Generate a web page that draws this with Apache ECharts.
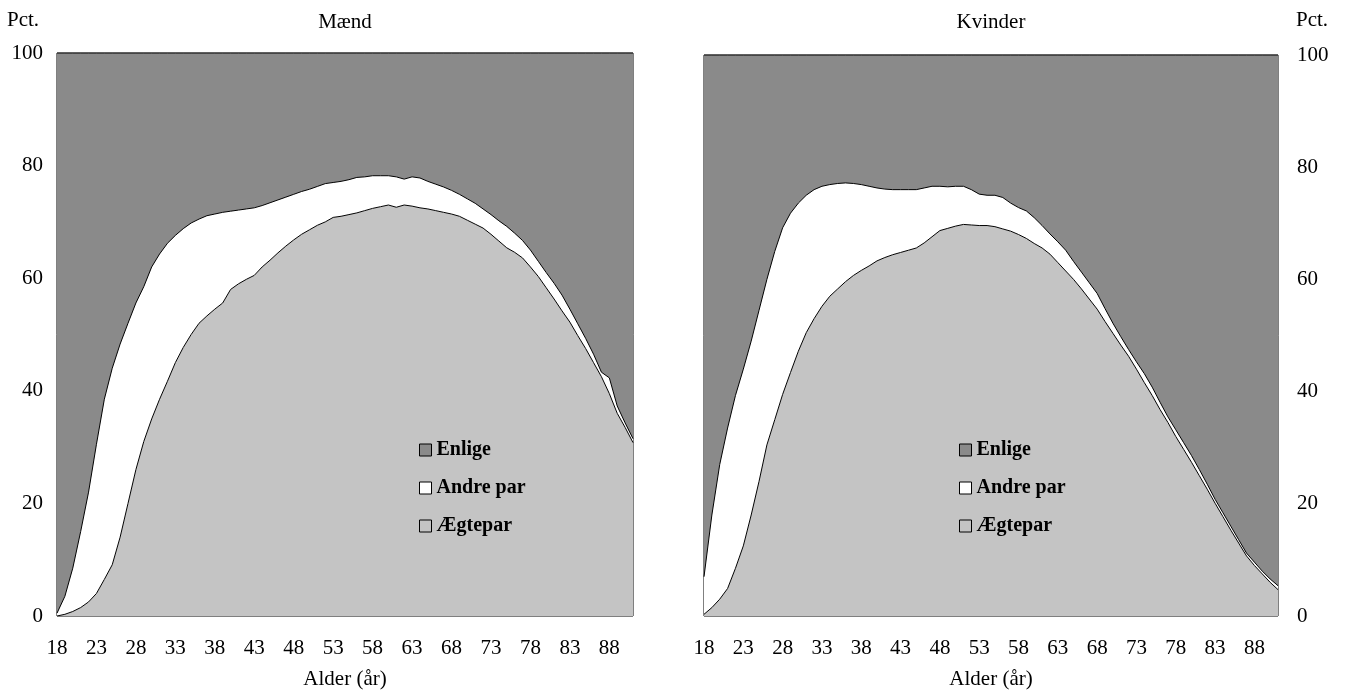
<!DOCTYPE html>
<html>
<head>
<meta charset="utf-8">
<script src="https://cdn.jsdelivr.net/npm/echarts@6/dist/echarts.min.js"></script>
<style>
html,body{margin:0;padding:0;background:#fff;}
#c{width:1349px;height:695px;}
</style>
</head>
<body>
<div id="c"></div>
<script>
// Categories: age in years
const ages = [18,19,20,21,22,23,24,25,26,27,28,29,30,31,32,33,34,35,36,37,38,39,40,41,42,43,44,45,46,47,48,49,50,51,52,53,54,55,56,57,58,59,60,61,62,63,64,65,66,67,68,69,70,71,72,73,74,75,76,77,78,79,80,81,82,83,84,85,86,87,88,89,90,91];

// Mænd (pct.)
const maendAegtepar = [0,0.3,0.8,1.5,2.5,4.0,6.5,9.1,14,20,26,31,35,38.5,41.7,45,47.7,50,52,53.3,54.5,55.6,58,59,59.8,60.5,62,63.2,64.5,65.7,66.8,67.8,68.6,69.4,70,70.8,71,71.3,71.6,72,72.4,72.7,73,72.6,73,72.8,72.5,72.3,72,71.7,71.4,71,70.3,69.6,68.9,67.8,66.6,65.4,64.6,63.6,62,60.3,58.3,56.3,54.2,52.2,49.8,47.5,45,42.5,39.5,36,33.5,30.8];
const maendAndrePar = [0.5,3.2,7.7,13.5,19.5,26.5,32,34.9,34.3,32,29.6,27.5,27,25.8,24.5,22.6,21.1,19.8,18.5,17.8,16.9,16.1,13.9,13.1,12.5,12,10.9,10.2,9.4,8.7,8.1,7.6,7.2,6.9,6.8,6.2,6.2,6.2,6.3,6,5.8,5.5,5.2,5.4,4.6,5.2,5.3,4.9,4.7,4.5,4.2,3.9,3.8,3.7,3.4,3.5,3.6,3.8,3.4,3.1,3,2.7,2.7,2.8,2.8,2.3,2.1,1.8,1.5,0.8,2.8,1.3,0.8,0.7];
const maendEnlige = [99.5,96.5,91.5,85,78,69.5,61.5,56,51.7,48,44.4,41.5,38,35.7,33.8,32.4,31.2,30.2,29.5,28.9,28.6,28.3,28.1,27.9,27.7,27.5,27.1,26.6,26.1,25.6,25.1,24.6,24.2,23.7,23.2,23,22.8,22.5,22.1,22,21.8,21.8,21.8,22,22.4,22,22.2,22.8,23.3,23.8,24.4,25.1,25.9,26.7,27.7,28.7,29.8,30.8,32,33.3,35,37,39,40.9,43,45.5,48.1,50.7,53.5,56.7,57.7,62.7,65.7,68.5];

// Kvinder (pct.)
const kvinderAegtepar = [0.3,1.5,3,4.9,8.5,12.5,18,24,30.5,35,39.5,43.4,47.2,50.5,53,55.2,57,58.3,59.6,60.7,61.6,62.4,63.3,63.9,64.4,64.8,65.2,65.6,66.5,67.6,68.7,69.1,69.5,69.8,69.7,69.6,69.6,69.4,69,68.6,68,67.3,66.4,65.6,64.5,63,61.5,60,58.3,56.5,54.7,52.5,50.4,48.3,46.3,44,41.6,39.3,36.8,34.5,32,29.7,27.4,25,22.6,20.1,17.7,15.3,13,10.7,9,7.5,6,4.7];
const kvinderAndrePar = [6.7,16.5,24,28.6,30.8,31.5,31,30.5,29.5,30,29.7,28.4,26.4,24.5,23,21.4,19.9,18.8,17.6,16.4,15.3,14.2,13,12.2,11.6,11.2,10.8,10.4,9.8,9,7.9,7.4,7.1,6.8,6.3,5.6,5.4,5.6,5.6,5,4.8,4.9,4.6,4,3.6,3.7,3.7,3.2,3,2.9,2.8,2.3,1.8,1.5,1.2,1.3,1.6,1.5,1.3,1,1.2,1.2,1.2,1.1,0.9,0.7,0.7,0.7,0.6,0.5,0.6,0.5,0.6,0.7];
const kvinderEnlige = [93,82,73,66.5,60.7,56,51,45.5,40,35,30.8,28.2,26.4,25,24,23.4,23.1,22.9,22.8,22.9,23.1,23.4,23.7,23.9,24,24,24,24,23.7,23.4,23.4,23.5,23.4,23.4,24,24.8,25,25,25.4,26.4,27.2,27.8,29,30.4,31.9,33.3,34.8,36.8,38.7,40.6,42.5,45.2,47.8,50.2,52.5,54.7,56.8,59.2,61.9,64.5,66.8,69.1,71.4,73.9,76.5,79.2,81.6,84,86.4,88.8,90.4,92,93.4,94.6];

const yTicks = [0,20,40,60,80,100];
const legendNames = ['Enlige','Andre par','Ægtepar'];

const SERIF = '"Liberation Serif","DejaVu Serif",serif';
const C_ENLIGE = '#8a8a8a';
const C_ANDRE = '#ffffff';
const C_AEGTE = '#c4c4c4';

function xAxis(gi){
  return {
    type:'category', gridIndex:gi, data:ages, boundaryGap:false,
    axisLine:{show:false}, axisTick:{show:false}, splitLine:{show:false},
    axisLabel:{interval:4, color:'#000', fontFamily:SERIF, fontSize:21, margin:22},
    name:'Alder (år)', nameLocation:'middle', nameGap:53,
    nameTextStyle:{color:'#000', fontFamily:SERIF, fontSize:21}
  };
}
function yAxis(gi,pos){
  return {
    type:'value', gridIndex:gi, min:yTicks[0], max:yTicks[yTicks.length-1], interval:20, position:pos,
    axisLine:{show:false}, axisTick:{show:false}, splitLine:{show:false},
    axisLabel:{color:'#000', fontFamily:SERIF, fontSize:21, margin: pos==='left'?14:19}
  };
}
function area(name, data, gi, stack, color){
  return {
    name:name, type:'line', xAxisIndex:gi, yAxisIndex:gi, stack:stack, data:data,
    symbol:'none', showSymbol:false, smooth:false,
    lineStyle:{color:'#000', width:1},
    itemStyle:{color:color},
    areaStyle:{color:color, opacity:1},
    emphasis:{disabled:true}
  };
}
function legend(left){
  return {
    orient:'vertical', left:left, top:435, itemGap:18, itemWidth:12, itemHeight:12,
    icon:'rect', selectedMode:false,
    textStyle:{color:'#000', fontFamily:SERIF, fontSize:20, fontWeight:'bold'},
    data:[
      {name:legendNames[0], itemStyle:{color:C_ENLIGE, borderColor:'#000', borderWidth:1}},
      {name:legendNames[1], itemStyle:{color:C_ANDRE, borderColor:'#000', borderWidth:1}},
      {name:legendNames[2], itemStyle:{color:C_AEGTE, borderColor:'#000', borderWidth:1}}
    ]
  };
}

const chart = echarts.init(document.getElementById('c'));
chart.setOption({
  animation:false,
  backgroundColor:'#fff',
  grid:[
    {left:57, top:53, width:576, height:569, show:true, borderColor:'#000', borderWidth:1, backgroundColor:'transparent'},
    {left:704, top:55, width:574, height:569, show:true, borderColor:'#000', borderWidth:1, backgroundColor:'transparent'}
  ],
  xAxis:[xAxis(0), xAxis(1)],
  yAxis:[yAxis(0,'left'), yAxis(1,'right')],
  legend:[legend(414), legend(954)],
  graphic:[
    {type:'text', left:7, top:10, style:{text:'Pct.', font:'21px '+SERIF, fill:'#000'}},
    {type:'text', left:1296, top:10, style:{text:'Pct.', font:'21px '+SERIF, fill:'#000'}},
    {type:'text', x:345, y:22, style:{text:'Mænd', font:'21px '+SERIF, fill:'#000', textAlign:'center', textVerticalAlign:'middle'}},
    {type:'text', x:991, y:22, style:{text:'Kvinder', font:'21px '+SERIF, fill:'#000', textAlign:'center', textVerticalAlign:'middle'}}
  ],
  series:[
    area('Ægtepar', maendAegtepar, 0, 'm', C_AEGTE),
    area('Andre par', maendAndrePar, 0, 'm', C_ANDRE),
    area('Enlige', maendEnlige, 0, 'm', C_ENLIGE),
    area('Ægtepar', kvinderAegtepar, 1, 'k', C_AEGTE),
    area('Andre par', kvinderAndrePar, 1, 'k', C_ANDRE),
    area('Enlige', kvinderEnlige, 1, 'k', C_ENLIGE)
  ]
});
</script>
</body>
</html>
